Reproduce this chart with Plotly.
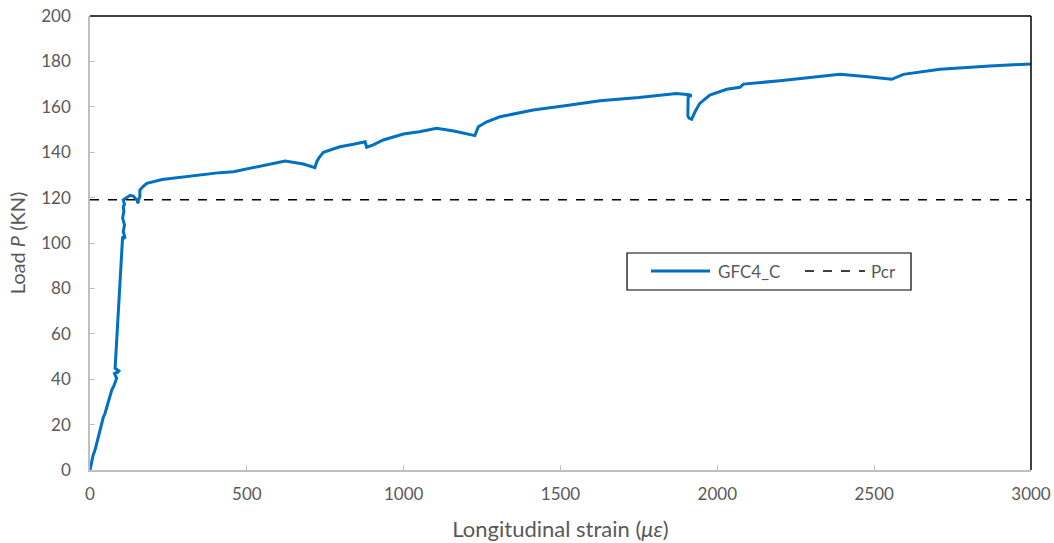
import plotly.graph_objects as go

strain = [0, 5, 10, 16, 22, 27, 32, 37, 42, 48, 53, 59, 63, 66, 70, 75, 80, 85, 78, 90, 94, 86, 92, 80,
          104, 112, 106, 110, 104, 108, 106, 110, 106, 128, 138, 154, 150, 159, 159, 170, 181, 230, 287, 350,
          414, 457, 520, 580, 622, 680, 717, 723, 730, 744, 797, 840, 877, 882, 903, 935, 999, 1050, 1105,
          1160, 1227, 1238, 1265, 1307, 1413, 1520, 1626, 1750, 1870, 1910, 1918, 1907, 1906, 1910, 1918,
          1929, 1944, 1976, 2030, 2072, 2083, 2200, 2300, 2391, 2480, 2556, 2593, 2710, 2869, 3000]
load = [0, 3.7, 6.5, 8.8, 12, 14.7, 17.5, 20.6, 23, 25, 27.5, 29.4, 32, 33.8, 35.5, 36.7, 38.5, 40.4, 42.5,
        43.3, 44, 42.8, 43.6, 44.8,
        102.8, 102, 105, 108, 111, 114, 116, 117, 119, 121, 120.7, 118.2, 117.5, 120.4, 123.3, 125, 126.3,
        128, 129, 130.2,
        131, 131.4, 133.2, 135, 136.1, 134.8, 133.2, 135.8, 137.5, 140, 142.4, 143.5, 144.6, 142.2, 143.2,
        145.4, 148, 149, 150.5,
        149.3, 147.3, 151.2, 153.4, 155.6, 158.6, 160.6, 162.7, 164.1, 165.9, 165.3, 164.9, 164.5, 156,
        155, 154.5,
        157.8, 161.5, 165.2, 167.7, 168.6, 170, 171.5, 172.8, 174.3, 173.2, 172.1, 174.3, 176.5, 178,
        178.9]

pcr_x = [0, 3000]
pcr_y = [119, 119]

x_ticks = [0, 500, 1000, 1500, 2000, 2500, 3000]
y_ticks = [0, 20, 40, 60, 80, 100, 120, 140, 160, 180, 200]

series_names = ["GFC4_C", "Pcr"]

FONT = "Lato"
GREY = "#595959"
BLUE = "#0070C0"

fig = go.Figure()
fig.add_trace(go.Scatter(x=strain, y=load, mode="lines", name=series_names[0], showlegend=False,
                         line=dict(color=BLUE, width=3)))
fig.add_trace(go.Scatter(x=pcr_x, y=pcr_y, mode="lines", name=series_names[1], showlegend=False,
                         line=dict(color="black", width=1.5, dash="dash")))

axis_common = dict(showgrid=False, zeroline=False, showline=True, linecolor="#BFBFBF", linewidth=1.5,
                   ticks="inside", ticklen=5, tickcolor="#BFBFBF", automargin=False,
                   tickfont=dict(family=FONT, size=17, color=GREY))

# manual legend (paper coordinates)
lg_y = 0.4383
shapes = [
    dict(type="line", xref="paper", yref="paper", x0=0, x1=1, y0=1, y1=1,
         line=dict(color="black", width=1.5)),
    dict(type="line", xref="paper", yref="paper", x0=1, x1=1, y0=0, y1=1,
         line=dict(color="black", width=1.5)),
    dict(type="rect", xref="paper", yref="paper", x0=0.5707, x1=0.8725, y0=0.3965, y1=0.478,
         line=dict(color="black", width=1.2), fillcolor="white", layer="above"),
    dict(type="line", xref="paper", yref="paper", x0=0.5962, x1=0.6589, y0=lg_y, y1=lg_y,
         line=dict(color=BLUE, width=3), layer="above"),
    dict(type="line", xref="paper", yref="paper", x0=0.7598, x1=0.8236, y0=lg_y, y1=lg_y,
         line=dict(color="black", width=1.5, dash="dash"), layer="above"),
]
annotations = [
    dict(text=series_names[0], xref="paper", yref="paper", x=0.6653, y=lg_y, xanchor="left",
         yanchor="middle", showarrow=False, font=dict(family=FONT, size=17, color=GREY)),
    dict(text=series_names[1], xref="paper", yref="paper", x=0.8278, y=lg_y, xanchor="left",
         yanchor="middle", showarrow=False, font=dict(family=FONT, size=17, color=GREY)),
]

fig.update_layout(
    width=1054, height=543,
    margin=dict(l=90, r=23, t=16, b=73),
    paper_bgcolor="white", plot_bgcolor="white",
    font=dict(family=FONT, color=GREY),
    showlegend=False,
    xaxis=dict(range=[0, 3000], tickvals=x_ticks, ticklabelstandoff=8,
               title=dict(text="Longitudinal strain (<i>με</i>)", font=dict(family=FONT, size=22, color=GREY),
                          standoff=18),
               **axis_common),
    yaxis=dict(range=[0, 200], tickvals=y_ticks, ticklabelstandoff=14,
               title=dict(text="Load <i>P</i> (KN)", font=dict(family=FONT, size=20, color=GREY),
                          standoff=10),
               **axis_common),
    shapes=shapes,
    annotations=annotations,
)

fig.write_html("out.html", config={"displayModeBar": False},
               post_script="document.body.style.margin='0';document.body.style.overflow='hidden';")
